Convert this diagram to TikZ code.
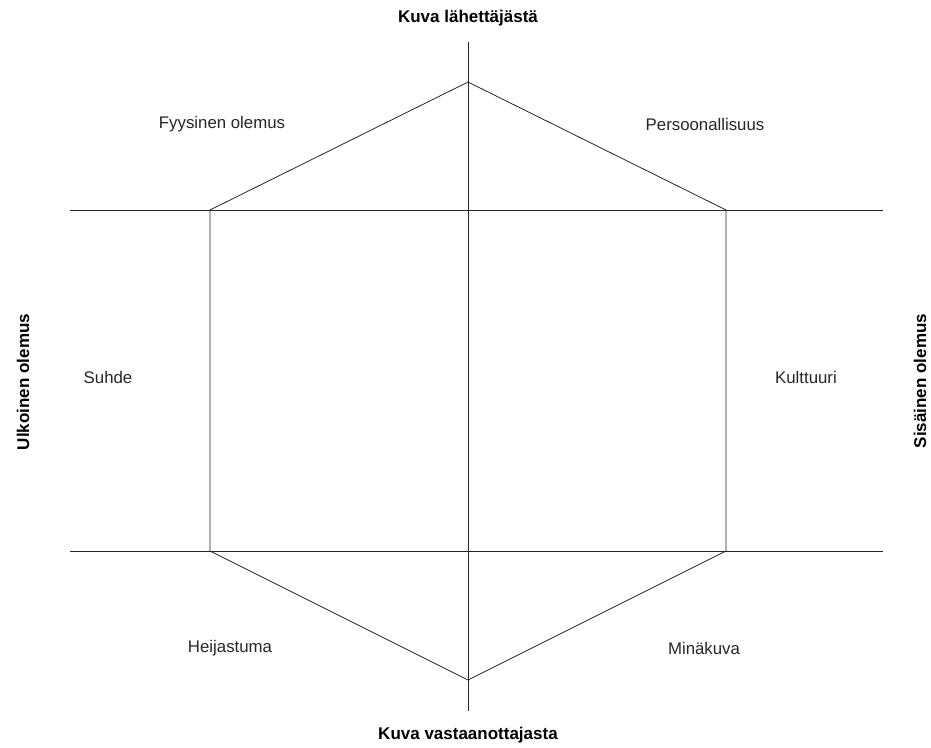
\documentclass[tikz,border=0pt]{standalone}
\usepackage{fontspec}
\setmainfont{Liberation Sans}
\begin{document}
\begin{tikzpicture}[x=1pt,y=-1pt,
  lbl/.style={font=\fontsize{16.8}{19}\selectfont, text=black!85, inner sep=0pt},
  head/.style={font=\bfseries\fontsize{17}{19}\selectfont, inner sep=0pt},
  edge/.style={draw=black!85, line width=0.8pt}]
\useasboundingbox[fill=white] (0,0) rectangle (931,747);
% hexagon vertices
\coordinate (T) at (468,82);
\coordinate (TR) at (726,210);
\coordinate (BR) at (726,551);
\coordinate (B) at (468,680);
\coordinate (BL) at (210,551);
\coordinate (TL) at (210,210);
% axis ends
\coordinate (vt) at (468,42);
\coordinate (vb) at (468,711);
\coordinate (hl1) at (70,210);
\coordinate (hr1) at (883,210);
\coordinate (hl2) at (70,551);
\coordinate (hr2) at (883,551);
\draw[edge] (vt) -- (vb);
\draw[edge] (hl1) -- (hr1);
\draw[edge] (hl2) -- (hr2);
\draw[edge] (T) -- (TR) -- (BR) -- (B) -- (BL) -- (TL) -- cycle;
% headings
\node[head] (top) at (468,18) {Kuva lähettäjästä};
\node[head] (bot) at (468,735) {Kuva vastaanottajasta};
\node[head, rotate=90] (left) at (23,382) {Ulkoinen olemus};
\node[head, rotate=90] (right) at (920,381) {Sisäinen olemus};
% labels
\node[lbl] (fy) at (222,124) {Fyysinen olemus};
\node[lbl] (pe) at (705,124) {Persoonallisuus};
\node[lbl] (su) at (108,377) {Suhde};
\node[lbl] (ku) at (806,377) {Kulttuuri};
\node[lbl] (he) at (230,648) {Heijastuma};
\node[lbl] (mi) at (704,648) {Minäkuva};
\end{tikzpicture}
\end{document}
